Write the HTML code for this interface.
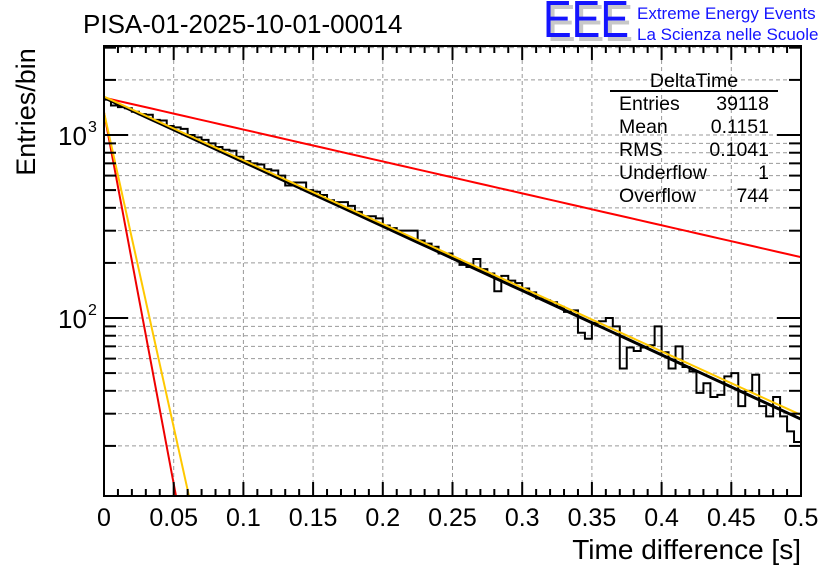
<!DOCTYPE html>
<html><head><meta charset="utf-8"><style>
html,body{margin:0;padding:0;background:#fff;}
svg{display:block;font-family:"Liberation Sans",sans-serif;}
</style></head><body>
<svg id="chart" width="836" height="572" viewBox="0 0 836 572">
<rect x="0" y="0" width="836" height="572" fill="#fff"/>
<text x="83" y="33" font-size="26" fill="#000">PISA-01-2025-10-01-00014</text>
<g>
<text x="547" y="41" font-size="52" fill="#c8c8c8" textLength="86" lengthAdjust="spacingAndGlyphs">EEE</text>
<text x="543" y="37" font-size="52" fill="#1414ff" textLength="86" lengthAdjust="spacingAndGlyphs">EEE</text>
<text x="637" y="19" font-size="17" fill="#1414ff">Extreme Energy Events</text>
<text x="637" y="40" font-size="17" fill="#1414ff">La Scienza nelle Scuole</text>
</g>
<g id="grid"></g>
<g id="marks"></g>
<g id="axes"></g>
<g font-size="19.5" fill="#000">
<text x="694" y="87" text-anchor="middle">DeltaTime</text>
<line x1="610" y1="91" x2="778" y2="91" stroke="#000" stroke-width="2"/>
<text x="619" y="110">Entries</text><text x="769" y="110" text-anchor="end">39118</text>
<text x="619" y="133">Mean</text><text x="769" y="133" text-anchor="end">0.1151</text>
<text x="619" y="156">RMS</text><text x="769" y="156" text-anchor="end">0.1041</text>
<text x="619" y="179">Underflow</text><text x="769" y="179" text-anchor="end">1</text>
<text x="619" y="202">Overflow</text><text x="769" y="202" text-anchor="end">744</text>
</g>
<text x="801" y="559" font-size="28" text-anchor="end">Time difference [s]</text>
<text transform="translate(35,112) rotate(-90)" font-size="27" text-anchor="middle">Entries/bin</text>
</svg>
<script>
const binCounts = [
1560,1450,1420,1400,1340,1300,1290,1210,1200,1120,
1100,1080,1000,970,940,900,860,830,820,760,
720,700,690,650,640,600,530,550,550,500,
490,470,440,430,430,410,380,360,360,350,
320,310,300,300,300,265,255,245,225,225,
210,195,190,210,185,175,140,170,160,155,
145,138,128,125,122,115,108,110,83,77,
94,96,100,90,53,69,66,69,71,90,
65,53,70,54,51,39,44,37,38,48,
50,33,40,49,33,29,37,29,24,21];
const binWidth = 0.005;
const xTicks = [0,0.05,0.1,0.15,0.2,0.25,0.3,0.35,0.4,0.45,0.5];
const xTickLabels = ["0","0.05","0.1","0.15","0.2","0.25","0.3","0.35","0.4","0.45","0.5"];
const yMajor = [100,1000];
const yMajorLabels = ["2","3"];
const fitTotal = [1600, 28];
const fitYellow = [1620, 29.5];
const fitRedSlow = [1600, 215];
const fitRedFast = [1330, 10.6, 0.0517];
const fitYellowFast = [1330, 10.6, 0.061];

const X0=104,X1=801,Y0=496,Y1=46;
const yRef=135, dec=183;
const sx = t => X0 + (t/0.5)*(X1-X0);
const sy = v => yRef - (Math.log10(v)-3)*dec;
const NS="http://www.w3.org/2000/svg";
function mk(tag, attrs, parent){const e=document.createElementNS(NS,tag);for(const k in attrs)e.setAttribute(k,attrs[k]);parent.appendChild(e);return e;}
const grid=document.getElementById('grid'), marks=document.getElementById('marks'), axes=document.getElementById('axes');
const clipId='plotclip';
const defs=mk('defs',{},document.getElementById('chart'));
const cp=mk('clipPath',{id:clipId},defs); mk('rect',{x:X0,y:Y1,width:X1-X0,height:Y0-Y1},cp);
marks.setAttribute('clip-path','url(#'+clipId+')');

xTicks.forEach((t,i)=>{ if(i>0&&i<xTicks.length-1){const l=mk('line',{x1:sx(t),x2:sx(t),y1:Y1,y2:Y0,stroke:'#999','stroke-dasharray':'4,3','stroke-width':1},grid);

}});
const yMinorVals=[];
[10,100,1000].forEach(d=>{for(let m=1;m<10;m++){const v=d*m; const y=sy(v); if(y>Y1&&y<Y0) yMinorVals.push(v);}});
yMinorVals.forEach(v=>{const l=mk('line',{x1:X0,x2:X1,y1:sy(v),y2:sy(v),stroke:'#999','stroke-dasharray':'4,3','stroke-width':1},grid);

});

let d='';
binCounts.forEach((c,i)=>{const xa=sx(i*binWidth), xb=sx((i+1)*binWidth), y=sy(c);
 d += (i===0?'M'+xa+','+Y0+' L'+xa+','+y:' L'+xa+','+y)+' L'+xb+','+y;});
d+=' L'+sx(binCounts.length*binWidth)+','+Y0;
const hist=mk('path',{d:d,fill:'none',stroke:'#000','stroke-width':2},marks);



function expLine(p, name, color, w){
 const tEnd = p.length>2? p[2] : 0.5;
 const k = Math.log(p[0]/p[1])/tEnd;
 let s=''; for(let j=0;j<=60;j++){const t=tEnd*j/60; s+=(j?' L':'M')+sx(t)+','+sy(p[0]*Math.exp(-k*t));}
 const l=mk('path',{d:s,fill:'none',stroke:color,'stroke-width':w},marks);
 
 
}
expLine(fitRedSlow,'fit-slow-component','#ff0000',2);
expLine(fitRedFast,'fit-fast-component','#ee0000',2);
expLine(fitYellowFast,'fit-fast-component-alt','#ffc800',2);
expLine(fitTotal,'fit-total','#000',3);
expLine(fitYellow,'fit-total-alt','#ffc800',2);

const fr=mk('rect',{x:X0,y:Y1,width:X1-X0,height:Y0-Y1,fill:'none',stroke:'#000','stroke-width':2},axes);


for(let i=0;i<=50;i++){const t=i*0.01; const major=(i%5===0); const L=major?14:7; const x=sx(t);
 mk('line',{x1:x,x2:x,y1:Y0,y2:Y0-L,stroke:'#000','stroke-width':2},axes);
 mk('line',{x1:x,x2:x,y1:Y1,y2:Y1+L,stroke:'#000','stroke-width':2},axes);}
xTicks.forEach((t,i)=>{const tx=mk('text',{x:sx(t),y:526,'font-size':25,'text-anchor':'middle'},axes); tx.textContent=xTickLabels[i];

});
yMinorVals.concat(yMajor).forEach(v=>{const major=yMajor.includes(v); const L=major?24:12; const y=sy(v);
 mk('line',{x1:X0,x2:X0+L,y1:y,y2:y,stroke:'#000','stroke-width':2},axes);
 mk('line',{x1:X1,x2:X1-L,y1:y,y2:y,stroke:'#000','stroke-width':2},axes);});
yMajor.forEach((v,i)=>{const tx=mk('text',{x:58,y:sy(v)+10,'font-size':26},axes); tx.textContent='10';
 
 
 const ex=mk('text',{x:88,y:sy(v)-3,'font-size':16},axes); ex.textContent=yMajorLabels[i];
 
 });
</script>
</body></html>
